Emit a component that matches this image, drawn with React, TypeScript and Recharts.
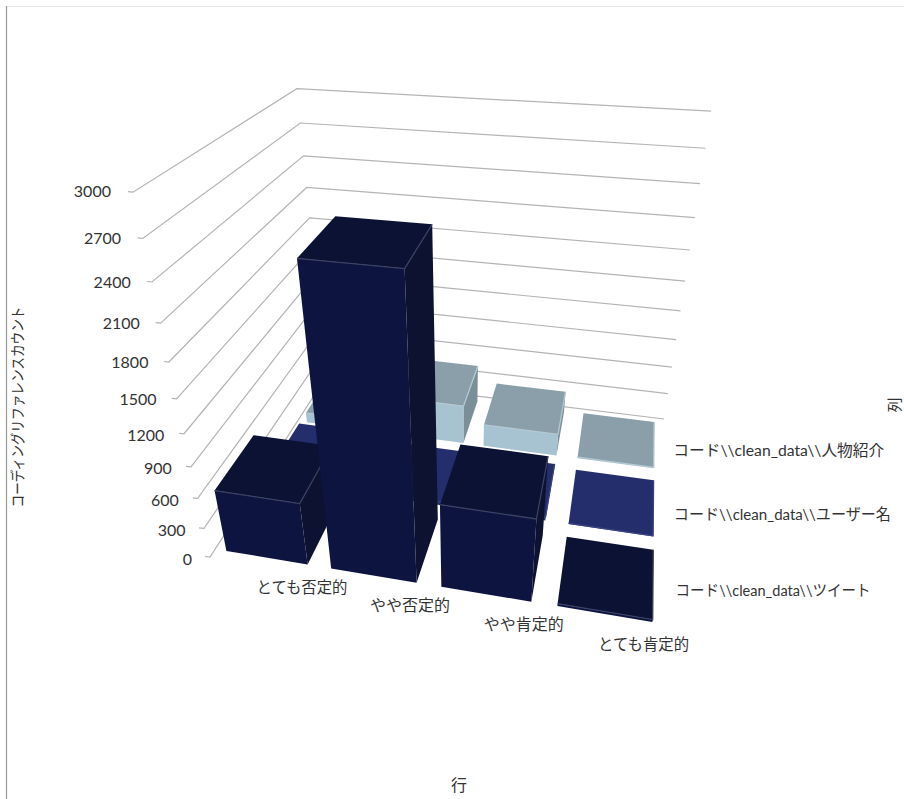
import React from "react";
import { BarChart, Bar, XAxis, YAxis, Customized } from "recharts";

const WIDTH = 904;
const HEIGHT = 799;
const AXIS_BAND = 1;

// Categories along the front of the floor and the value axis.
const categories = ["とても否定的", "やや否定的", "やや肯定的", "とても肯定的"];
const categoryLabelLengths = [91, 80, 80, 91];
const valueTicks = [0, 300, 600, 900, 1200, 1500, 1800, 2100, 2400, 2700, 3000];
const VALUE_MAX = 3000;

// One series per floor row, listed from the back row to the front row.
const seriesNames = [
  "コード\\\\clean_data\\\\人物紹介",
  "コード\\\\clean_data\\\\ユーザー名",
  "コード\\\\clean_data\\\\ツイート",
];
const seriesLabelLengths = [211, 217, 195];
const profileValues = [110, 420, 240, 12];
const usernameValues = [110, 40, 40, 8];
const tweetValues = [620, 2620, 810, 25];

const palettes = [
  { top: "#8a9fa9", front: "#a7c2d0", side: "#7b8f98", edge: "#b4c8d2" },
  { top: "#252e6c", front: "#2a3378", side: "#1e2659", edge: "#3a4380" },
  { top: "#0b1233", front: "#0e1440", side: "#0c1230", edge: "#3a4163" },
];

const FONT = "Lato, 'Noto Sans CJK JP', sans-serif";
const TEXT = "#333333";

// Perspective camera: the floor quad in page space plus the vanishing point
// of the vertical direction.
const FLOOR = {
  frontLeft: [210, 557],
  frontRight: [666, 634],
  backRight: [664, 419],
  backLeft: [325.5, 377.7],
};
const VERTICAL_VP = [461, 1746];
const RISE = -0.2348;
const COLS = categories.length;
const ROWS = seriesNames.length;
const BAR_FILL = 0.78;
const ROW_FILL = 0.8;

const floorMatrix = (() => {
  const [x0, y0] = FLOOR.frontLeft;
  const [x1, y1] = FLOOR.frontRight;
  const [x2, y2] = FLOOR.backRight;
  const [x3, y3] = FLOOR.backLeft;
  const dx1 = x1 - x2, dx2 = x3 - x2, sx = x0 - x1 + x2 - x3;
  const dy1 = y1 - y2, dy2 = y3 - y2, sy = y0 - y1 + y2 - y3;
  const det = dx1 * dy2 - dx2 * dy1;
  const g = (sx * dy2 - dx2 * sy) / det;
  const h = (dx1 * sy - sx * dy1) / det;
  return {
    a: x1 - x0 + g * x1, b: x3 - x0 + h * x3, c: x0,
    d: y1 - y0 + g * y1, e: y3 - y0 + h * y3, f: y0,
    g, h,
  };
})();

// col in 0..COLS, row in 0..ROWS (0 = front), z in 0..1 of the value axis.
function project(col: number, row: number, z: number): [number, number] {
  const m = floorMatrix;
  const u = col / COLS;
  const v = row / ROWS;
  const t = RISE * z;
  const w = m.g * u + m.h * v + 1 + t;
  return [
    (m.a * u + m.b * v + m.c + t * VERTICAL_VP[0]) / w,
    (m.d * u + m.e * v + m.f + t * VERTICAL_VP[1]) / w,
  ];
}

// The axes take one pixel on the left and at the bottom of the flat plot.
const PLOT_W = WIDTH - AXIS_BAND;
const PLOT_H = HEIGHT - AXIS_BAND;
const flatToCol = (x: number) => ((x - AXIS_BAND) / PLOT_W) * COLS;
const flatToZ = (y: number) => (PLOT_H - y) / PLOT_H;
const poly = (pts: [number, number][]) => pts.map((p) => p.join(",")).join(" ");

const chartData = categories.map((name, i) => ({
  name,
  profile: profileValues[i],
  username: usernameValues[i],
  tweet: tweetValues[i],
}));

// Turns the flat bar laid out by the chart into a prism on its floor row.
function prism(seriesIndex: number) {
  return function PrismShape(props: any) {
    const { x, y, width } = props;
    const palette = palettes[seriesIndex];
    const row = ROWS - 1 - seriesIndex;
    const c0 = flatToCol(x);
    const c1 = flatToCol(x + width);
    const r0 = row + (1 - ROW_FILL) / 2;
    const r1 = row + (1 + ROW_FILL) / 2;
    const z = flatToZ(y);
    const fl = project(c0, r0, 0);
    const fr = project(c1, r0, 0);
    const br = project(c1, r1, 0);
    const tfl = project(c0, r0, z);
    const tfr = project(c1, r0, z);
    const tbr = project(c1, r1, z);
    const tbl = project(c0, r1, z);
    return (
      <g>
        <polygon points={poly([fr, br, tbr, tfr])} fill={palette.side} />
        <polygon points={poly([fl, fr, tfr, tfl])} fill={palette.front} />
        <polygon points={poly([tfl, tfr, tbr, tbl])} fill={palette.top} />
        <polyline points={poly([tfl, tfr, tbr])} fill="none" stroke={palette.edge} strokeWidth={1.3} />
      </g>
    );
  };
}

function WallGrid() {
  return (
    <g>
      {valueTicks.map((tick) => {
        const z = tick / VALUE_MAX;
        const front = project(0, 0, z);
        const corner = project(0, ROWS, z);
        const end = project(COLS, ROWS, z);
        const stub: [number, number] = [front[0] - 5, front[1] - 0.5];
        return (
          <polyline
            key={tick}
            points={poly([stub, front, corner, end])}
            fill="none"
            stroke="#b4b4b4"
            strokeWidth={1.2}
          />
        );
      })}
    </g>
  );
}

function SeriesLabels() {
  const shifts = [[9, 6], [9, 7], [10, 5]];
  return (
    <g>
      {seriesNames.map((name, i) => {
        const [px, py] = project(COLS, ROWS - 1 - i + 0.5, 0);
        return (
          <text
            key={name}
            x={px + shifts[i][0]}
            y={py + shifts[i][1]}
            fontFamily={FONT}
            fontSize={15.5}
            fill={TEXT}
            dominantBaseline="middle"
            textLength={seriesLabelLengths[i]}
            lengthAdjust="spacingAndGlyphs"
          >
            {name}
          </text>
        );
      })}
    </g>
  );
}

function Frame() {
  return (
    <g>
      <line x1={6} y1={6.5} x2={WIDTH} y2={6.5} stroke="#e6e6e6" strokeWidth={1.2} />
      <line x1={6.5} y1={6} x2={6.5} y2={HEIGHT} stroke="#999999" strokeWidth={1.2} />
    </g>
  );
}

function AxisTitles() {
  return (
    <g fontFamily={FONT} fill={TEXT}>
      <text
        x={19}
        y={407}
        fontSize={15}
        textAnchor="middle"
        dominantBaseline="middle"
        textLength={201}
        lengthAdjust="spacingAndGlyphs"
        transform="rotate(-90 19 407)"
      >
        コーディングリファレンスカウント
      </text>
      <text x={459} y={787} fontSize={16} textAnchor="middle" dominantBaseline="middle">
        行
      </text>
      <text x={896} y={405} fontSize={15} textAnchor="middle" dominantBaseline="middle" transform="rotate(-90 896 405)">
        列
      </text>
    </g>
  );
}

function CategoryTick(props: any) {
  const { x, payload, index } = props;
  const [px, py] = project(flatToCol(x), 0, 0);
  return (
    <text
      x={px + 40}
      y={py + 23}
      fontFamily={FONT}
      fontSize={15.5}
      fill={TEXT}
      textAnchor="middle"
      dominantBaseline="middle"
      textLength={categoryLabelLengths[index]}
      lengthAdjust="spacingAndGlyphs"
    >
      {payload.value}
    </text>
  );
}

function ValueTick(props: any) {
  const { y, payload } = props;
  const z = flatToZ(y);
  const [px, py] = project(0, 0, z);
  return (
    <text
      x={px - 18 - 4 * z}
      y={py + 4 - 3 * z}
      fontFamily={FONT}
      fontSize={16}
      fill={TEXT}
      textAnchor="end"
      dominantBaseline="middle"
    >
      {payload.value}
    </text>
  );
}

export default function App() {
  const barSize = (PLOT_W / COLS) * BAR_FILL;
  return (
    <div style={{ position: "absolute", left: 0, top: 0, width: WIDTH, height: HEIGHT, overflow: "hidden" }}>
      <BarChart
        width={WIDTH}
        height={HEIGHT}
        data={chartData}
        margin={{ top: 0, right: 0, bottom: 0, left: 0 }}
        barSize={barSize}
        barGap={-barSize}
      >
        <Customized component={Frame} />
        <Customized component={WallGrid} />
        <XAxis dataKey="name" height={AXIS_BAND} axisLine={false} tickLine={false} interval={0} tick={<CategoryTick />} />
        <YAxis
          width={AXIS_BAND}
          domain={[0, VALUE_MAX]}
          ticks={valueTicks}
          interval={0}
          axisLine={false}
          tickLine={false}
          tick={<ValueTick />}
        />
        <Bar dataKey="profile" name={seriesNames[0]} isAnimationActive={false} shape={prism(0)} />
        <Bar dataKey="username" name={seriesNames[1]} isAnimationActive={false} shape={prism(1)} />
        <Bar dataKey="tweet" name={seriesNames[2]} isAnimationActive={false} shape={prism(2)} />
        <Customized component={SeriesLabels} />
        <Customized component={AxisTitles} />
      </BarChart>
    </div>
  );
}
